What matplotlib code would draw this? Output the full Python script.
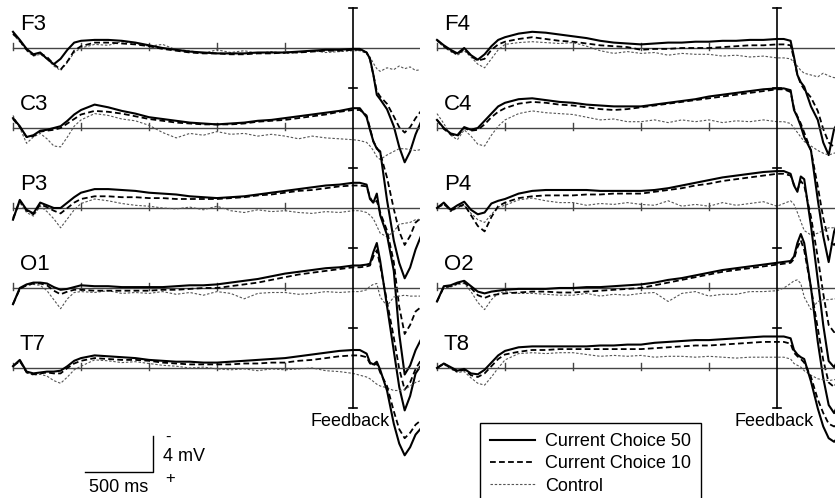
import matplotlib.pyplot as plt

plt.rcParams['font.family'] = ['Liberation Sans', 'DejaVu Sans']

# time axis (ms, feedback at 0)
times = [-2500, -2450, -2400, -2350, -2300, -2250, -2200, -2150, -2100, -2050,
         -2000, -1900, -1800, -1700, -1600, -1500, -1400, -1300, -1200, -1100,
         -1000, -900, -800, -700, -600, -500, -400, -300, -200, -100,
         0, 50, 100, 125, 150, 175, 200, 250, 300, 340, 380, 420, 460, 500]

left_channels = ['F3', 'C3', 'P3', 'O1', 'T7']
right_channels = ['F4', 'C4', 'P4', 'O2', 'T8']
conditions = ['Current Choice 50', 'Current Choice 10', 'Control']
tick_times = [-2500, -2000, -1500, -1000, -500]

# amplitudes in microvolts (positive plotted downward)
f3_cc50 = [-1.8, -0.9, 0.1, 0.7, 0.5, 1.2, 1.8, 1.2, 0.2, -0.6,
           -0.8, -0.9, -0.9, -0.8, -0.6, -0.3, 0.0, 0.2, 0.4, 0.5,
           0.6, 0.6, 0.6, 0.5, 0.5, 0.5, 0.4, 0.3, 0.2, 0.2,
           0.1, 0.1, 0.5, 1.2, 3.0, 5.2, 5.7, 6.8, 8.7, 11.0, 12.7, 11.5, 9.6, 8.2]
f3_cc10 = [-1.6, -0.8, 0.2, 0.8, 0.6, 1.0, 1.8, 2.4, 1.5, 0.3,
           -0.2, -0.6, -0.6, -0.5, -0.4, -0.2, 0.1, 0.3, 0.5, 0.6,
           0.6, 0.7, 0.7, 0.6, 0.6, 0.5, 0.5, 0.4, 0.3, 0.3,
           0.2, 0.2, 0.5, 1.3, 3.0, 4.8, 5.4, 6.2, 7.6, 8.8, 9.4, 8.8, 7.8, 7.0]
f3_ctrl = [-1.5, -0.7, 0.3, 0.9, 0.7, 1.2, 2.0, 2.5, 1.6, 0.5,
           0.0, -0.4, -0.3, -0.7, -0.5, -0.2, -0.4, 0.2, 0.3, 0.6,
           0.2, 0.5, 0.3, 0.6, 0.4, 0.6, 0.5, 0.3, 0.5, 0.4,
           0.3, 0.3, 0.6, 1.0, 1.7, 2.3, 2.6, 2.2, 2.4, 2.0, 2.3, 2.1, 2.5, 2.4]

c3_cc50 = [-1.1, -0.2, 1.0, 0.8, 0.3, 0.2, 0.0, -0.2, -0.8, -1.5,
           -2.0, -2.6, -2.3, -1.9, -1.6, -1.2, -1.0, -0.8, -0.6, -0.5,
           -0.4, -0.5, -0.6, -0.8, -0.9, -1.1, -1.3, -1.5, -1.7, -1.9,
           -2.2, -2.2, -1.2, 0.2, 1.5, 2.3, 2.6, 8.0, 12.5, 15.0, 16.7, 15.5, 13.5, 12.0]
c3_cc10 = [-1.0, -0.1, 1.0, 0.9, 0.4, 0.3, 0.2, 0.0, -0.5, -1.0,
           -1.5, -1.9, -1.8, -1.6, -1.3, -1.0, -0.8, -0.6, -0.5, -0.4,
           -0.4, -0.4, -0.5, -0.7, -0.8, -0.9, -1.1, -1.3, -1.5, -1.8,
           -2.0, -2.0, -1.4, 0.0, 1.5, 2.2, 2.8, 5.5, 9.0, 11.5, 13.0, 12.0, 10.5, 10.0]
c3_ctrl = [-1.4, 0.0, 1.7, 1.0, 0.6, 1.2, 2.0, 2.1, 1.0, -0.2,
           -0.9, -1.6, -1.4, -1.0, -0.8, -0.3, 0.5, 1.1, 0.6, 0.8,
           0.4, 0.7, 0.6, 0.9, 0.7, 0.9, 1.2, 0.9, 1.1, 1.2,
           1.3, 1.4, 1.6, 2.0, 2.5, 3.2, 3.5, 3.0, 2.6, 2.3, 2.3, 2.4, 2.5, 2.4]

p3_cc50 = [1.3, -0.9, 0.2, 0.6, -0.6, -0.3, 0.0, 0.0, -0.6, -1.2,
           -1.7, -2.1, -2.1, -2.0, -1.9, -1.7, -1.6, -1.5, -1.3, -1.2,
           -1.1, -1.2, -1.3, -1.5, -1.7, -1.9, -2.1, -2.3, -2.5, -2.6,
           -2.8, -2.8, -2.6, -1.0, -0.6, -1.6, 0.8, 3.0, 7.0, 14.0, 18.5, 17.5, 15.8, 14.6]
p3_cc10 = [1.2, -0.8, 0.3, 0.7, -0.4, -0.1, 0.3, 0.6, 0.0, -0.6,
           -1.0, -1.3, -1.3, -1.2, -1.2, -1.1, -1.1, -1.0, -1.0, -1.0,
           -1.0, -1.1, -1.2, -1.4, -1.5, -1.7, -1.9, -2.0, -2.2, -2.4,
           -2.5, -2.5, -2.4, -1.2, -0.5, -0.8, 0.5, 2.5, 6.0, 11.0, 14.0, 13.0, 11.5, 11.0]
p3_ctrl = [1.0, -0.6, 0.5, 0.9, -0.2, 0.4, 1.2, 2.2, 1.2, 0.2,
           -0.5, -1.0, -0.8, -0.5, -0.3, -0.2, 0.0, 0.1, -0.1, 0.2,
           -0.2, 0.3, 0.5, 0.2, 0.4, 0.3, 0.5, 0.6, 0.4, 0.5,
           0.3, 0.3, 0.5, 0.8, 1.2, 2.0, 2.8, 3.2, 2.6, 1.8, 1.7, 1.6, 1.3, 1.3]

o1_cc50 = [1.8, 0.0, -0.4, -0.6, -0.6, -0.5, -0.1, 0.2, 0.1, -0.1,
           -0.3, -0.2, -0.2, -0.1, -0.1, -0.1, -0.1, -0.2, -0.3, -0.3,
           -0.4, -0.6, -0.8, -1.0, -1.3, -1.6, -1.8, -2.0, -2.2, -2.3,
           -2.5, -2.5, -2.6, -2.7, -4.0, -5.0, -3.0, 2.0, 7.0, 11.0, 13.6, 12.0, 9.5, 8.6]
o1_cc10 = [1.8, 0.1, -0.3, -0.5, -0.5, -0.3, 0.3, 0.7, 0.4, 0.2,
           0.2, 0.3, 0.3, 0.3, 0.3, 0.3, 0.2, 0.2, 0.1, 0.0,
           0.0, -0.2, -0.4, -0.6, -0.9, -1.2, -1.5, -1.7, -1.9, -2.1,
           -2.3, -2.3, -2.4, -2.5, -3.5, -4.2, -2.5, 1.5, 5.5, 9.0, 11.3, 10.5, 9.0, 8.0]
o1_ctrl = [1.7, 0.2, -0.3, -0.4, -0.3, 0.3, 1.3, 2.3, 1.2, 0.5,
           0.4, 0.5, 0.3, 0.6, 0.5, 0.6, 0.4, 0.7, 0.5, 0.8,
           0.4, 0.6, 1.2, 0.6, 0.5, 0.5, 0.7, 0.6, 0.4, 0.5,
           0.4, 0.4, 0.2, -0.2, -0.4, -0.5, 1.0, 2.0, 1.0, 0.9, 0.8, 0.9, 0.9, 0.9]

t7_cc50 = [-0.2, -0.9, 0.4, 0.6, 0.5, 0.4, 0.4, 0.3, -0.2, -0.8,
           -1.1, -1.4, -1.3, -1.2, -1.1, -0.9, -0.8, -0.7, -0.7, -0.6,
           -0.6, -0.7, -0.8, -0.9, -1.0, -1.1, -1.3, -1.5, -1.7, -1.9,
           -2.0, -2.0, -1.6, -0.6, -0.4, -0.7, 0.2, 2.5, 6.2, 8.4, 9.7, 8.8, 7.4, 6.7]
t7_cc10 = [-0.2, -0.8, 0.5, 0.7, 0.6, 0.5, 0.6, 0.6, 0.0, -0.5,
           -0.8, -1.1, -1.0, -0.9, -0.9, -0.8, -0.6, -0.5, -0.4, -0.4,
           -0.4, -0.4, -0.5, -0.5, -0.6, -0.6, -0.8, -0.9, -1.1, -1.3,
           -1.4, -1.4, -1.2, -0.5, -0.3, -0.5, 0.5, 2.0, 4.8, 6.8, 7.8, 7.2, 6.3, 5.8]
t7_ctrl = [-0.2, -0.7, 0.5, 0.8, 0.7, 0.9, 1.4, 1.7, 1.0, 0.2,
           -0.2, -0.9, -0.8, -0.6, -0.7, -0.5, -0.3, -0.2, 0.0, -0.1,
           0.1, 0.2, 0.1, 0.3, 0.1, 0.2, 0.1, 0.0, 0.3, 0.4,
           0.6, 0.8, 1.0, 1.2, 1.5, 1.8, 2.0, 2.2, 2.5, 2.5, 2.4, 2.0, 1.6, 1.4]

f4_cc50 = [-0.9, -0.3, 0.2, 0.6, 0.0, 0.8, 1.3, 0.7, -0.2, -0.9,
           -1.2, -1.6, -1.8, -1.7, -1.5, -1.3, -1.1, -0.8, -0.6, -0.5,
           -0.4, -0.5, -0.6, -0.6, -0.7, -0.7, -0.8, -0.8, -0.9, -0.9,
           -1.0, -1.0, -0.8, 1.0, 3.0, 3.8, 4.3, 6.5, 8.0, 10.5, 11.9, 9.0, 8.0, 7.0]
f4_cc10 = [-0.9, -0.2, 0.3, 0.7, 0.1, 0.9, 1.4, 1.2, 0.2, -0.4,
           -0.7, -1.0, -1.2, -1.0, -0.8, -0.7, -0.5, -0.3, -0.2, -0.1,
           0.2, 0.1, 0.1, 0.0, 0.0, 0.0, -0.1, -0.2, -0.3, -0.3,
           -0.4, -0.4, -0.3, 1.2, 3.0, 4.0, 4.6, 5.5, 7.0, 9.0, 10.5, 11.0, 10.5, 10.0]
f4_ctrl = [-0.8, -0.1, 0.4, 0.8, 0.3, 1.0, 1.8, 2.2, 1.2, 0.2,
           -0.4, -0.6, -0.7, -0.6, -0.5, -0.6, -0.2, 0.3, 0.6, 0.4,
           0.6, 0.5, 0.8, 0.6, 0.7, 0.7, 0.9, 0.8, 1.0, 0.9,
           1.1, 1.1, 1.2, 1.6, 2.0, 2.5, 2.8, 3.0, 3.2, 2.8, 3.1, 3.3, 3.2, 3.2]

c4_cc50 = [-0.9, 0.0, 0.6, 0.8, -0.1, 0.2, 0.0, -0.8, -1.6, -2.4,
           -2.8, -3.2, -3.3, -3.1, -2.9, -2.8, -2.6, -2.5, -2.4, -2.4,
           -2.4, -2.6, -2.8, -3.0, -3.2, -3.5, -3.7, -3.9, -4.1, -4.3,
           -4.4, -4.4, -4.2, -2.0, -1.2, -0.2, 1.0, 2.5, 8.0, 12.0, 14.9, 11.5, 10.0, 9.0]
c4_cc10 = [-0.9, 0.1, 0.7, 0.9, 0.0, 0.3, 0.2, -0.4, -1.2, -1.8,
           -2.2, -2.7, -2.9, -2.8, -2.6, -2.5, -2.3, -2.1, -2.0, -2.1,
           -2.3, -2.5, -2.7, -2.9, -3.1, -3.3, -3.5, -3.7, -3.9, -4.1,
           -4.3, -4.3, -4.0, -2.2, -1.3, -0.5, 0.5, 2.5, 6.5, 10.0, 12.5, 13.0, 12.0, 11.0]
c4_ctrl = [-1.6, -0.5, 0.8, 1.3, 0.2, 0.9, 1.8, 2.0, 0.8, -0.2,
           -0.9, -1.6, -1.9, -1.7, -1.6, -1.5, -1.2, -0.9, -1.0, -0.7,
           -0.7, -0.9, -0.6, -0.9, -0.7, -0.9, -0.6, -0.8, -0.7, -0.9,
           -0.7, -0.7, -0.5, 0.0, 0.5, 1.0, 1.5, 2.0, 2.5, 2.8, 3.0, 2.8, 2.6, 2.5]

p4_cc50 = [0.0, -0.6, 0.2, -0.3, -0.7, 0.2, 0.7, 0.5, -0.5, -0.8,
           -1.0, -1.6, -1.9, -2.0, -2.0, -2.0, -2.0, -1.9, -1.9, -1.9,
           -1.9, -2.0, -2.2, -2.5, -2.8, -3.1, -3.4, -3.6, -3.8, -4.0,
           -4.1, -4.1, -3.8, -2.5, -1.8, -3.5, -3.2, 2.0, 8.0, 13.0, 17.0, 17.7, 16.5, 15.5]
p4_cc10 = [0.0, -0.5, 0.3, -0.1, -0.4, 0.8, 2.0, 2.6, 1.0, -0.2,
           -0.6, -1.1, -1.3, -1.4, -1.4, -1.4, -1.5, -1.5, -1.6, -1.6,
           -1.6, -1.8, -2.0, -2.2, -2.5, -2.7, -3.0, -3.2, -3.4, -3.6,
           -3.8, -3.8, -3.6, -2.6, -2.0, -3.0, -2.5, 1.0, 5.5, 9.5, 13.0, 13.8, 13.0, 12.0]
p4_ctrl = [0.1, -0.4, 0.4, 0.0, -0.3, 0.6, 1.3, 1.6, 0.7, -0.1,
           -0.3, -0.9, -1.1, -0.8, -0.6, -0.6, -0.3, -0.5, -0.4, -0.6,
           -0.4, -0.3, -0.8, -0.2, -0.4, -0.2, -0.6, -0.3, -0.5, -0.7,
           -0.2, -0.5, -0.8, -0.4, 0.5, 1.5, 2.5, 3.0, 2.8, 2.5, 2.2, 2.2, 2.0, 2.0]

o2_cc50 = [1.5, -0.2, -0.3, -0.6, -0.8, -0.2, 0.4, 0.6, 0.4, 0.3,
           0.2, 0.1, 0.1, 0.1, 0.0, 0.0, -0.1, -0.1, -0.2, -0.3,
           -0.4, -0.6, -0.9, -1.1, -1.4, -1.7, -2.0, -2.2, -2.4, -2.6,
           -2.8, -2.9, -3.0, -3.5, -5.0, -6.0, -5.0, 0.0, 6.0, 10.0, 13.0, 13.9, 12.5, 11.5]
o2_cc10 = [1.5, -0.1, -0.2, -0.5, -0.6, 0.0, 0.8, 1.1, 0.8, 0.7,
           0.6, 0.5, 0.4, 0.4, 0.5, 0.5, 0.4, 0.3, 0.2, 0.1,
           0.0, -0.3, -0.6, -0.9, -1.2, -1.5, -1.8, -2.0, -2.2, -2.4,
           -2.6, -2.7, -2.8, -3.2, -4.5, -5.3, -4.2, 0.0, 4.5, 8.0, 10.5, 11.0, 10.0, 9.5]
o2_ctrl = [1.4, 0.0, -0.1, -0.4, -0.5, 0.4, 1.6, 2.4, 1.3, 0.6,
           0.4, 0.6, 0.6, 0.7, 0.8, 0.8, 0.6, 0.9, 0.7, 0.8,
           0.6, 0.5, 1.5, 0.6, 0.4, 0.9, 0.7, 0.7, 0.4, 0.4,
           0.3, 0.0, -0.5, -0.8, -0.9, -0.5, 1.0, 2.4, 1.5, 1.3, 1.3, 1.2, 1.2, 1.2]

t8_cc50 = [0.0, -0.5, -0.1, 0.3, 0.1, 0.6, 0.7, 0.2, -0.6, -1.4,
           -1.9, -2.3, -2.4, -2.4, -2.4, -2.4, -2.4, -2.5, -2.5, -2.6,
           -2.6, -2.8, -2.9, -3.0, -3.1, -3.1, -3.2, -3.3, -3.4, -3.5,
           -3.5, -3.5, -3.3, -2.0, -1.5, -1.2, -1.0, 1.5, 4.5, 6.5, 7.8, 8.2, 7.5, 7.0]
t8_cc10 = [0.0, -0.5, 0.0, 0.4, 0.2, 0.8, 1.0, 0.6, -0.2, -1.0,
           -1.5, -1.8, -2.0, -2.0, -2.1, -2.1, -2.1, -2.1, -2.1, -2.1,
           -2.1, -2.2, -2.3, -2.4, -2.5, -2.5, -2.6, -2.7, -2.8, -2.9,
           -2.9, -2.9, -2.7, -1.7, -1.3, -1.0, -0.6, 1.0, 3.5, 5.0, 6.2, 6.5, 6.0, 5.5]
t8_ctrl = [0.0, -0.4, 0.1, 0.5, 0.4, 1.1, 1.7, 1.9, 1.0, 0.0,
           -0.9, -1.6, -1.7, -1.6, -1.7, -1.7, -1.5, -1.3, -1.4, -1.3,
           -1.4, -1.2, -1.3, -1.3, -1.2, -1.3, -1.2, -1.1, -1.2, -1.2,
           -1.2, -1.2, -1.0, -0.5, -0.3, -0.1, 0.3, 0.8, 1.2, 1.3, 1.4, 1.3, 1.2, 1.2]

waves = {
    'F3': (f3_cc50, f3_cc10, f3_ctrl), 'C3': (c3_cc50, c3_cc10, c3_ctrl),
    'P3': (p3_cc50, p3_cc10, p3_ctrl), 'O1': (o1_cc50, o1_cc10, o1_ctrl),
    'T7': (t7_cc50, t7_cc10, t7_ctrl), 'F4': (f4_cc50, f4_cc10, f4_ctrl),
    'C4': (c4_cc50, c4_cc10, c4_ctrl), 'P4': (p4_cc50, p4_cc10, p4_ctrl),
    'O2': (o2_cc50, o2_cc10, o2_ctrl), 'T8': (t8_cc50, t8_cc10, t8_ctrl),
}

# layout (pixels of the 835x498 figure)
W, H = 835, 498
PX_MS = 0.136      # px per ms
PX_UV = 9.0        # px per microvolt
row_px = [48, 128, 208, 288, 368]

styles = [
    dict(color='black', lw=1.5, ls='-'),
    dict(color='black', lw=1.3, dashes=(3.2, 1.8)),
    dict(color='#555555', lw=0.8, dashes=(2.2, 1.6)),
]

fig = plt.figure(figsize=(W / 100, H / 100), dpi=100)


def draw_column(x0, x1, zero, names):
    ax = fig.add_axes([x0 / W, 0, (x1 - x0) / W, 1])
    ax.set_xlim((x0 - zero) / PX_MS, (x1 - zero) / PX_MS)
    ax.set_ylim(H / PX_UV, 0)
    ax.axis('off')
    xmax = ax.get_xlim()[1]
    offs = [r / PX_UV for r in row_px]
    half = 40 / PX_UV
    handles = []
    for name, off in zip(names, offs):
        ax.plot([times[0], xmax], [off, off], color='#444444', lw=1.0)
        for tk in tick_times:
            ax.plot([tk, tk], [off - 0.6, off + 0.2], color='#444444', lw=1.0)
        ax.text(-2450, off - 2.0, name, fontsize=16, va='baseline', ha='left')
        lines = []
        for series, st in zip(reversed(waves[name]), reversed(styles)):
            ln, = ax.plot(times, [off + v for v in series], **st)
            lines.append(ln)
        handles = lines[::-1]
    # feedback axis
    ax.plot([0, 0], [offs[0] - half, offs[-1] + half], color='black', lw=1.2)
    for off in offs + [offs[-1] + 2 * half]:
        ax.plot([-30, 30], [off - half, off - half], color='black', lw=1.2)
    ax.text(-20, offs[-1] + 5.9, 'Feedback', fontsize=13, ha='center', va='center')
    return ax, offs, handles


axl, offs, _ = draw_column(0, 420, 353, left_channels)
axr, _, handles = draw_column(420, 835, 777, right_channels)

# scale bar: 500 ms x 4 uV
sb_y = offs[-1] + 104 / PX_UV
sb_x = -1470
axl.plot([sb_x - 500, sb_x, sb_x], [sb_y, sb_y, sb_y - 4], color='black', lw=1.0)
axl.text(sb_x - 250, sb_y + 1.7, '500 ms', fontsize=13, ha='center', va='center')
axl.text(sb_x + 75, sb_y - 1.7, '4 mV', fontsize=13, ha='left', va='center')
axl.text(sb_x + 90, sb_y - 3.8, '-', fontsize=12, ha='left', va='center')
axl.text(sb_x + 90, sb_y + 0.7, '+', fontsize=12, ha='left', va='center')

leg = axr.legend(handles, conditions, loc='upper left',
                 bbox_to_anchor=(480 / W, 1 - 423 / H), bbox_transform=fig.transFigure,
                 fontsize=13, frameon=True, fancybox=False, edgecolor='black',
                 handlelength=2.5, handletextpad=0.55, labelspacing=0.3,
                 borderpad=0.55, borderaxespad=0)
leg.get_frame().set_linewidth(1.0)
leg.get_frame().set_alpha(1)

fig.savefig('out.png', dpi=100)
